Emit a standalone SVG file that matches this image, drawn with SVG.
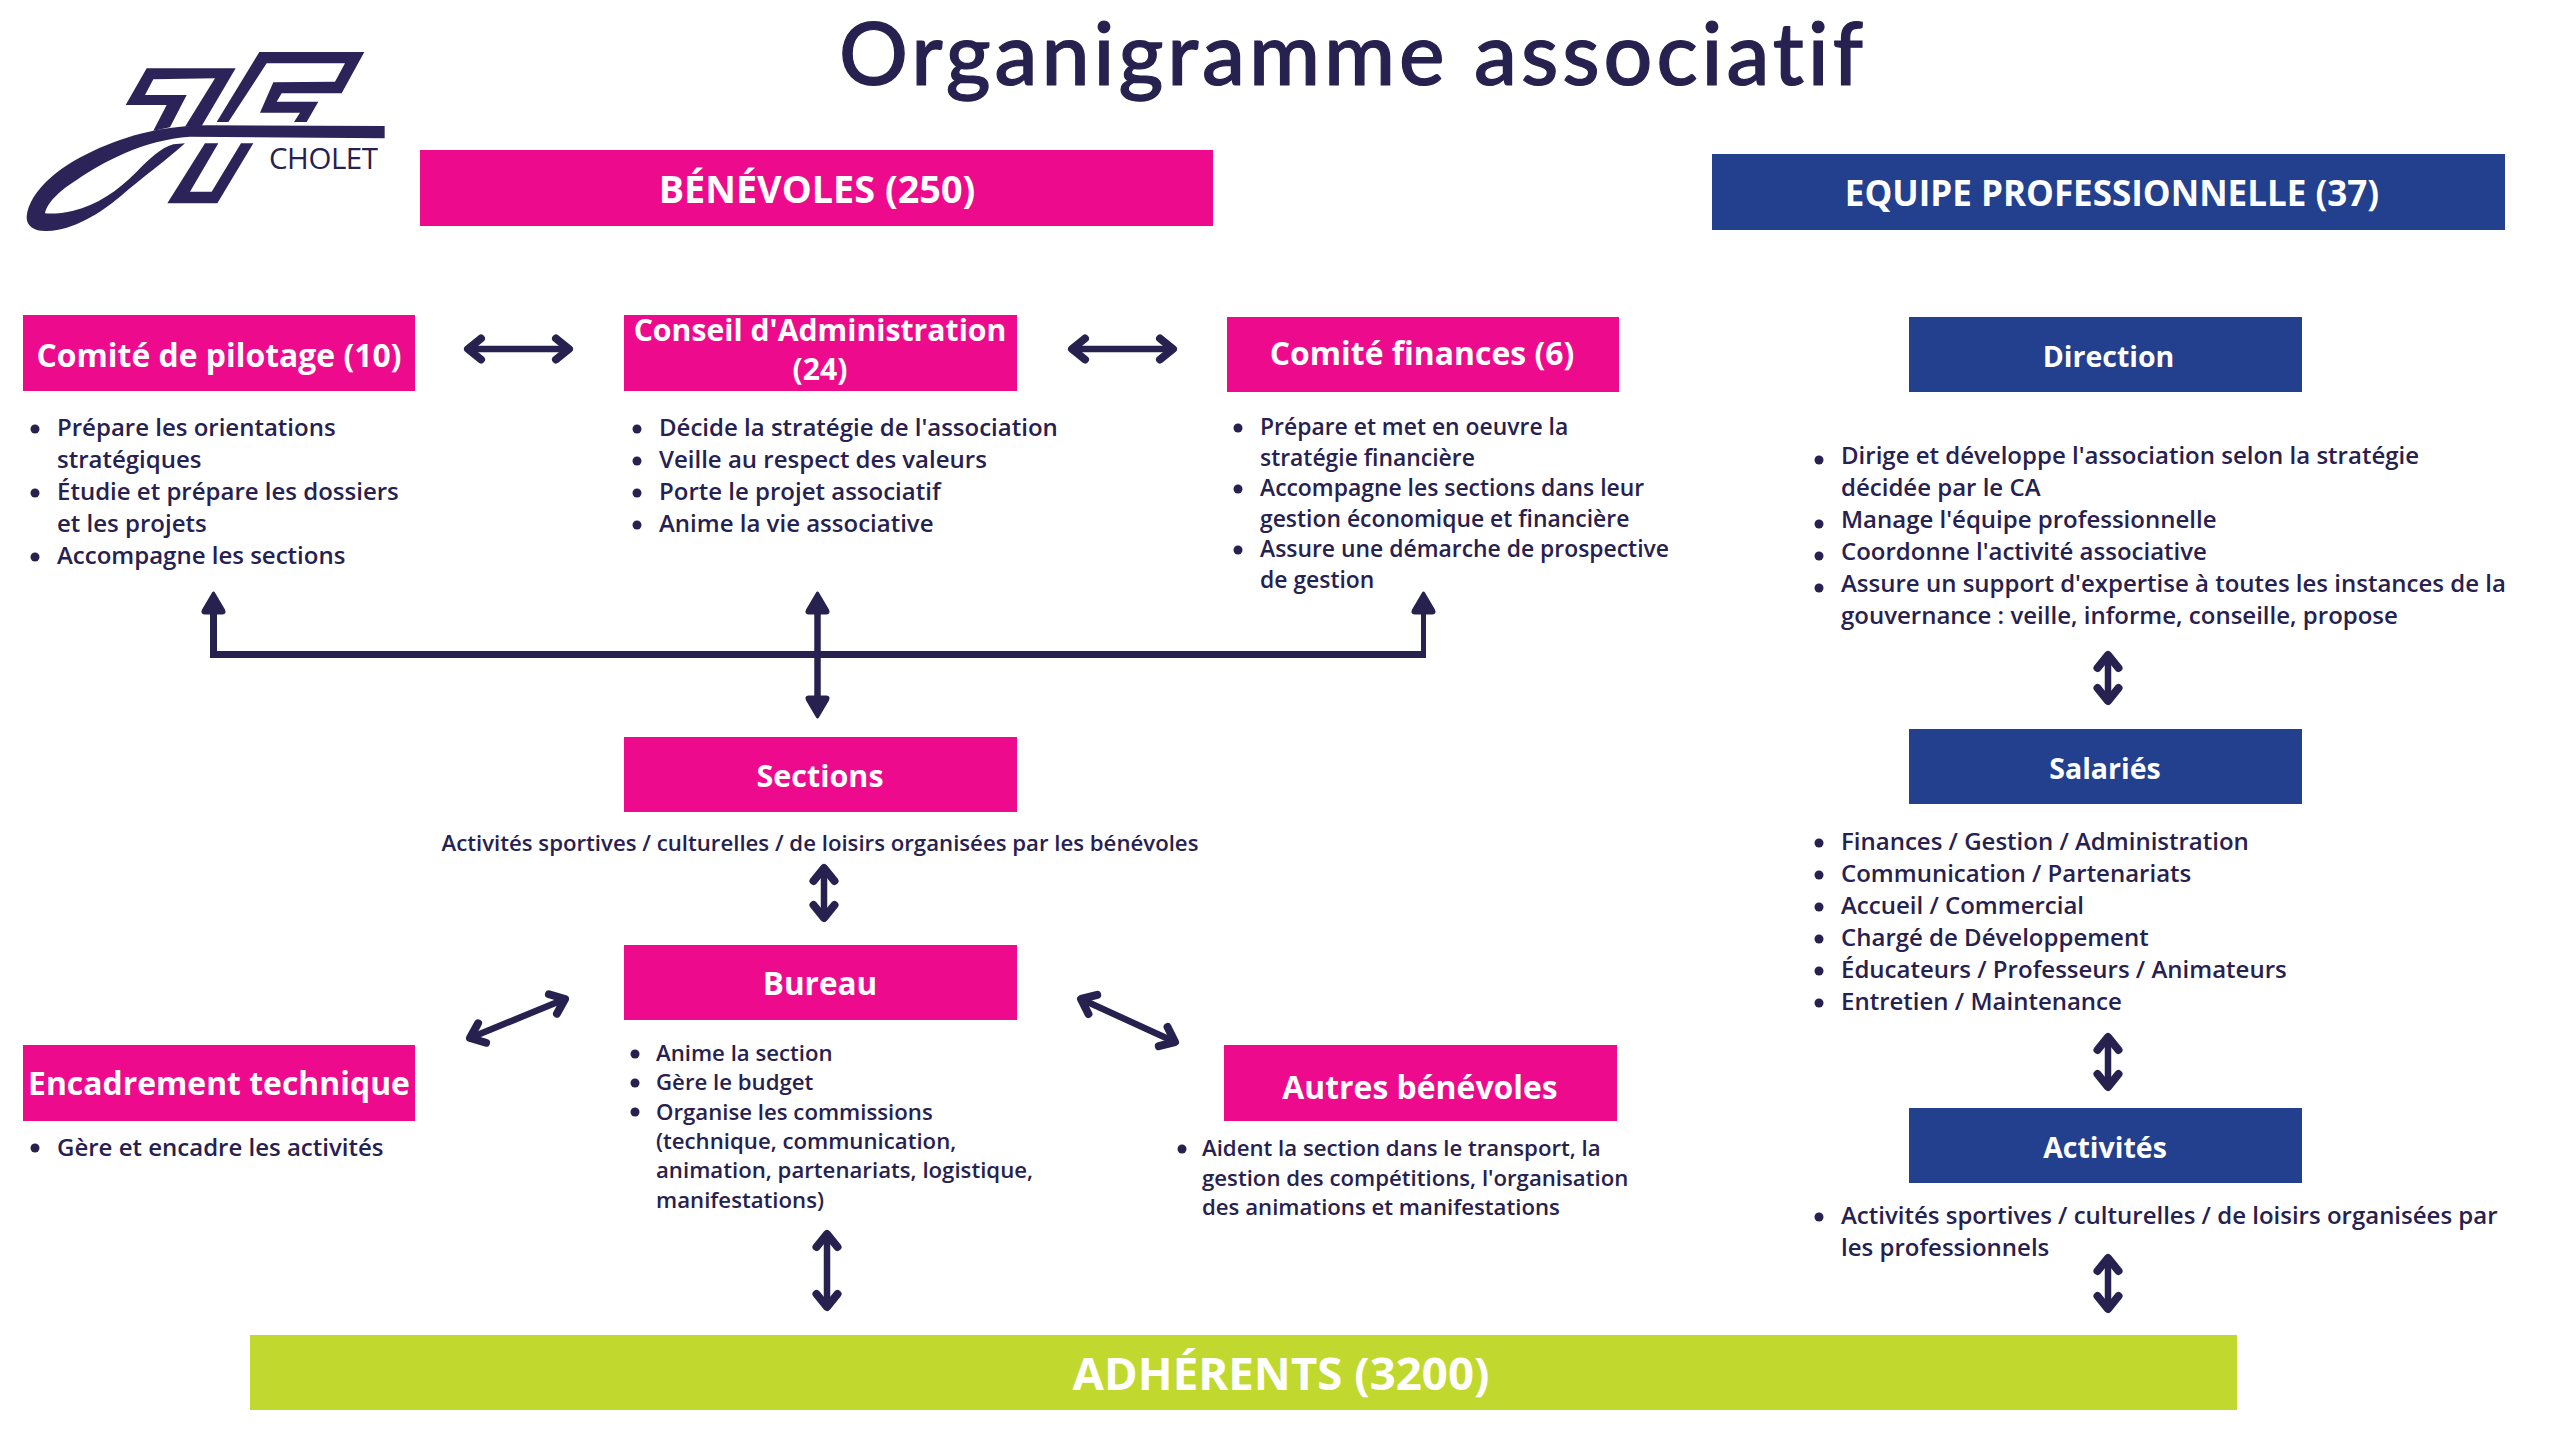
<svg xmlns="http://www.w3.org/2000/svg" width="2560" height="1440" viewBox="0 0 2560 1440">
<style>
text{font-family:"Open Sans","Liberation Sans",sans-serif}
.p{fill:#ee0a8c}.n{fill:#23408e}.g{fill:#c1d92f}
.h{fill:#fff;font-weight:700;text-anchor:middle;font-size:31.900px}
.hb{font-size:28.500px}
.t{fill:#27214f;font-weight:600;font-size:24px}
.t2{fill:#27214f;font-weight:600;font-size:22.200px}
.t3{fill:#27214f;font-weight:600;font-size:22.900px}
circle{fill:#27214f}
.c{fill:none;stroke:#27214f;stroke-width:6.500}
.d{marker-start:url(#o);marker-end:url(#o)}
</style>
<defs>
<marker id="o" markerUnits="userSpaceOnUse" viewBox="-30 -20 50 40" markerWidth="50" markerHeight="40" refX="0" refY="0" orient="auto-start-reverse"><path d="M-13,-10.500 L0,0 L-13,10.500" fill="none" stroke="#27214f" stroke-width="8" stroke-linecap="round" stroke-linejoin="round"/></marker>
<marker id="f" markerUnits="userSpaceOnUse" viewBox="-30 -20 50 40" markerWidth="50" markerHeight="40" refX="0" refY="0" orient="auto-start-reverse"><path d="M10,0 L-7,-10 Q-10,-11.500 -10,-9 L-10,9 Q-10,11.500 -7,10 Z" fill="#27214f" stroke="#27214f" stroke-width="3" stroke-linejoin="round"/></marker>
</defs>

<text id="title" x="839" y="85" font-size="86" font-weight="500" fill="#27214f" stroke="#27214f" stroke-width="1.200" textLength="1024" lengthAdjust="spacing" style="font-family:Lato,sans-serif;font-variant-ligatures:none">Organigramme associatif</text>

<g id="logo">
<g transform="translate(10,40) scale(0.33333)" fill="#2c2459">
<path d="M748,36 L1063,36 L995,160 L815,160 L800,185 L925,185 L890,246 L852,246 L870,218 L750,218 L790,127 L975,125 L1005,70 L770,70 L655,246 L620,246 Z"/>
<path d="M410,85 L677,85 L575,258 L525,260 L615,115 L430,118 L405,165 L530,165 L480,262 L430,272 L470,195 L347,195 Z"/>
<path d="M1124,258 L590,256 C520,258 470,264 430,272 C330,292 200,345 125,410 C78,450 52,495 50,530 C49,560 75,575 112,573 C190,570 270,520 330,470 C400,410 470,360 525,310 L490,313 C450,325 420,355 380,395 C320,455 260,495 190,512 C160,520 125,522 105,520 C110,490 150,450 200,420 C280,365 400,300 540,290 L1124,295 Z"/>
<path d="M585,310 L625,310 L540,455 L605,455 L693,310 L730,310 L622,490 L472,490 Z"/>
</g>
<text x="269" y="169" font-size="29.500" fill="#27214f" textLength="109">CHOLET</text>
</g>

<g id="connectors">
<path class="c d" d="M468,349 H569"/>
<path class="c d" d="M1072,349 H1173"/>
<path class="c d" d="M470,1038 L565,999"/>
<path class="c d" d="M1081,999 L1175,1042"/>
<path class="c" style="stroke-width:7" d="M210,654.500 H1426"/>
<path class="c" style="stroke-width:7;marker-end:url(#f)" d="M213.500,658 V603"/>
<path class="c" style="stroke-width:5;marker-end:url(#f)" d="M1423.500,658 V603"/>
<path class="c" style="marker-start:url(#f);marker-end:url(#f)" d="M817.500,603 V707"/>
<path class="c d" d="M2108,655 V701"/>
<path class="c d" d="M824,868 V918"/>
<path class="c d" d="M827,1234 V1307"/>
<path class="c d" d="M2108,1037 V1087"/>
<path class="c d" d="M2108,1258 V1309"/>
</g>

<g id="benevoles"><rect class="p" x="420" y="150" width="793" height="76"/><text class="h" x="817" y="203" style="font-size:37.800px">BÉNÉVOLES (250)</text></g>
<g id="equipe"><rect class="n" x="1712" y="154" width="793" height="76"/><text class="h" x="2112" y="206" style="font-size:35px">EQUIPE PROFESSIONNELLE (37)</text></g>

<g id="comite-pilotage"><rect class="p" x="23" y="315" width="392" height="76"/><text class="h" x="219" y="367">Comité de pilotage (10)</text>
<circle cx="35" cy="429" r="4.500"/><circle cx="35" cy="493" r="4.500"/><circle cx="35" cy="557" r="4.500"/>
<text class="t" x="57" y="436">Prépare les orientations</text><text class="t" x="57" y="468">stratégiques</text><text class="t" x="57" y="500">Étudie et prépare les dossiers</text><text class="t" x="57" y="532">et les projets</text><text class="t" x="57" y="564">Accompagne les sections</text></g>

<g id="conseil"><rect class="p" x="624" y="315" width="393" height="76"/><text class="h" x="820" y="341" style="font-size:30.200px">Conseil d'Administration</text><text class="h" x="820" y="380" style="font-size:30.200px">(24)</text>
<circle cx="637" cy="429" r="4.500"/><circle cx="637" cy="461" r="4.500"/><circle cx="637" cy="493" r="4.500"/><circle cx="637" cy="525" r="4.500"/>
<text class="t" x="659" y="436">Décide la stratégie de l'association</text><text class="t" x="659" y="468">Veille au respect des valeurs</text><text class="t" x="659" y="500">Porte le projet associatif</text><text class="t" x="659" y="532">Anime la vie associative</text></g>

<g id="comite-finances"><rect class="p" x="1227" y="317" width="392" height="75"/><text class="h" x="1422" y="365">Comité finances (6)</text>
<circle cx="1238" cy="428" r="4.500"/><circle cx="1238" cy="489" r="4.500"/><circle cx="1238" cy="550" r="4.500"/>
<text class="t3" x="1260" y="435">Prépare et met en oeuvre la</text><text class="t3" x="1260" y="465.500">stratégie financière</text><text class="t3" x="1260" y="496">Accompagne les sections dans leur</text><text class="t3" x="1260" y="526.500">gestion économique et financière</text><text class="t3" x="1260" y="557">Assure une démarche de prospective</text><text class="t3" x="1260" y="587.500">de gestion</text></g>

<g id="direction"><rect class="n" x="1909" y="317" width="393" height="75"/><text class="h" x="2108.500" y="367" style="font-size:28.500px">Direction</text>
<circle cx="1819" cy="460" r="4.500"/><circle cx="1819" cy="524" r="4.500"/><circle cx="1819" cy="556" r="4.500"/><circle cx="1819" cy="588" r="4.500"/>
<text class="t" x="1841" y="463.500">Dirige et développe l'association selon la stratégie</text><text class="t" x="1841" y="495.500">décidée par le CA</text><text class="t" x="1841" y="527.500">Manage l'équipe professionnelle</text><text class="t" x="1841" y="559.500">Coordonne l'activité associative</text><text class="t" x="1841" y="591.500">Assure un support d'expertise à toutes les instances de la</text><text class="t" x="1841" y="623.500">gouvernance : veille, informe, conseille, propose</text></g>

<g id="salaries"><rect class="n" x="1909" y="729" width="393" height="75"/><text class="h" x="2105" y="778.500" style="font-size:28.500px">Salariés</text>
<circle cx="1819" cy="843" r="4.500"/><circle cx="1819" cy="875" r="4.500"/><circle cx="1819" cy="907" r="4.500"/><circle cx="1819" cy="939" r="4.500"/><circle cx="1819" cy="971" r="4.500"/><circle cx="1819" cy="1003" r="4.500"/>
<text class="t" x="1841" y="849.500">Finances / Gestion / Administration</text><text class="t" x="1841" y="881.500">Communication / Partenariats</text><text class="t" x="1841" y="913.500">Accueil / Commercial</text><text class="t" x="1841" y="945.500">Chargé de Développement</text><text class="t" x="1841" y="977.500">Éducateurs / Professeurs / Animateurs</text><text class="t" x="1841" y="1009.500">Entretien / Maintenance</text></g>

<g id="activites"><rect class="n" x="1909" y="1108" width="393" height="75"/><text class="h" x="2105" y="1158" style="font-size:28.500px">Activités</text>
<circle cx="1819" cy="1217" r="4.500"/>
<text class="t" x="1841" y="1223.500">Activités sportives / culturelles / de loisirs organisées par</text><text class="t" x="1841" y="1255.500">les professionnels</text></g>

<g id="sections"><rect class="p" x="624" y="737" width="393" height="75"/><text class="h" x="820" y="787" style="font-size:30.500px">Sections</text>
<text class="t2" x="820" y="850.500" text-anchor="middle">Activités sportives / culturelles / de loisirs organisées par les bénévoles</text></g>

<g id="bureau"><rect class="p" x="624" y="945" width="393" height="75"/><text class="h" x="820" y="995" style="font-size:31.500px">Bureau</text>
<circle cx="635" cy="1054" r="4.500"/><circle cx="635" cy="1083" r="4.500"/><circle cx="635" cy="1112" r="4.500"/>
<text class="t2" x="656" y="1061">Anime la section</text><text class="t2" x="656" y="1090">Gère le budget</text><text class="t2" x="656" y="1119.500">Organise les commissions</text><text class="t2" x="656" y="1149">(technique, communication,</text><text class="t2" x="656" y="1178">animation, partenariats, logistique,</text><text class="t2" x="656" y="1207.500">manifestations)</text></g>

<g id="encadrement"><rect class="p" x="23" y="1045" width="392" height="76"/><text class="h" x="219" y="1095">Encadrement technique</text>
<circle cx="35" cy="1148" r="4.500"/><text class="t" x="57" y="1155.500">Gère et encadre les activités</text></g>

<g id="autres"><rect class="p" x="1224" y="1045" width="393" height="76"/><text class="h" x="1420" y="1099">Autres bénévoles</text>
<circle cx="1182" cy="1149" r="4.500"/>
<text class="t2" x="1202" y="1156">Aident la section dans le transport, la</text><text class="t2" x="1202" y="1186">gestion des compétitions, l'organisation</text><text class="t2" x="1202" y="1215">des animations et manifestations</text></g>

<g id="adherents"><rect class="g" x="250" y="1335" width="1987" height="75"/><text class="h" x="1281" y="1390" style="font-size:45.600px">ADHÉRENTS (3200)</text></g>
</svg>
